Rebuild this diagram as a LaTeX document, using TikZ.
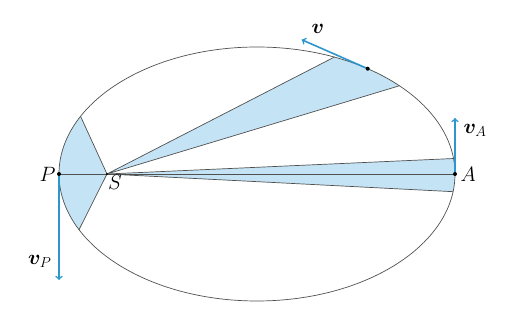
\documentclass[tikz,border=0pt]{standalone}
\usepackage{bm}
\usetikzlibrary{calc}
\definecolor{areablue}{RGB}{196,228,246}
\definecolor{arrowblue}{RGB}{45,150,205}
\definecolor{orbitgray}{RGB}{80,80,80}
\newcommand{\swept}[2]{
    \fill[areablue] (S) -- ($(O)+(#1:198 and 127)$)
        arc[start angle=#1, end angle=#2, x radius=198, y radius=127] -- cycle;
    \draw[orbitgray, line width=0.7pt] ($(O)+(#1:198 and 127)$) -- (S) -- ($(O)+(#2:198 and 127)$);
}
\tikzset{x=1pt, y=1pt, every node/.append style={font=\fontsize{20}{22}\selectfont}}

\begin{document}
\begin{tikzpicture}
                \useasboundingbox (0,0) rectangle (517,321);
                \coordinate (O) at (257,147);
                \coordinate (S) at (107,147);
                \coordinate (P) at (59,147);
                \coordinate (A) at (455,147);
                \coordinate (planet) at ($(O)+(56:198 and 127)$);
                % equal areas
                \swept{153}{206}
                \swept{44}{67}
                \swept{-8}{7}
                \draw[orbitgray, line width=0.7pt] (O) ellipse[x radius=198, y radius=127];
                \draw[orbitgray, line width=0.7pt] (P) -- (A);
                % velocities
                \coordinate (vtip) at ($(planet)+(-66,29)$);
                \coordinate (vAtip) at ($(A)+(0,56)$);
                \coordinate (vPtip) at ($(P)+(0,-106)$);
                \draw[line width=1.6pt, arrowblue, ->] (planet) -- (vtip);
                \draw[line width=1.6pt, arrowblue, ->] (A) -- (vAtip);
                \draw[line width=1.6pt, arrowblue, ->] (P) -- (vPtip);
                \fill[black]
                    (planet) circle (2pt)
                    (A) circle (2pt)
                    (P) circle (2pt)
                    (S) circle (1.2pt);
                \node (labP) [left] at (P) {$P$};
                \node (labS) [below right, inner sep=1pt] at (S) {$S$};
                \node (labA) [right, xshift=2pt] at (A) {$A$};
                \node (labv) at (318,292) {$\bm{v}$};
                \node (labvA) [right] at (460,191) {$\bm{v}_A$};
                \node (labvP) [left] at (55,60) {$\bm{v}_P$};
\end{tikzpicture}
\end{document}
